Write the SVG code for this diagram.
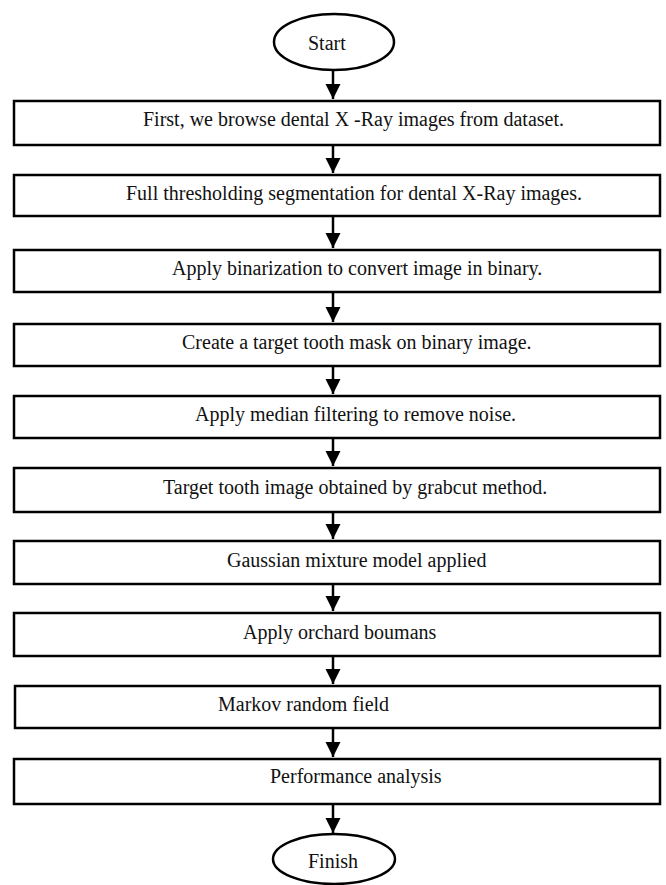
<svg xmlns="http://www.w3.org/2000/svg" width="666" height="885" viewBox="0 0 666 885">
<style>
.box{fill:#fff;stroke:#000;stroke-width:2.5}
.t{font-family:"Liberation Serif","Times New Roman",serif;font-size:20px;fill:#111}
.c{stroke:#000;stroke-width:2.5;fill:none}
</style>
<defs>
<marker id="ah" markerUnits="userSpaceOnUse" markerWidth="16" markerHeight="16" refX="15" refY="8" orient="auto">
<path d="M0,0.5 L15,8 L0,15.5 Z" fill="#000"/>
</marker>
</defs>
<rect width="666" height="885" fill="#fff"/>
<g id="connectors">
<line class="c" x1="333" y1="71" x2="333" y2="99" marker-end="url(#ah)"/>
<line class="c" x1="333" y1="146" x2="333" y2="173" marker-end="url(#ah)"/>
<line class="c" x1="333" y1="217" x2="333" y2="248" marker-end="url(#ah)"/>
<line class="c" x1="333" y1="293" x2="333" y2="322" marker-end="url(#ah)"/>
<line class="c" x1="333" y1="367" x2="333" y2="394" marker-end="url(#ah)"/>
<line class="c" x1="333" y1="439" x2="333" y2="466" marker-end="url(#ah)"/>
<line class="c" x1="333" y1="513" x2="333" y2="539" marker-end="url(#ah)"/>
<line class="c" x1="333" y1="585" x2="333" y2="611" marker-end="url(#ah)"/>
<line class="c" x1="333" y1="657" x2="333" y2="684" marker-end="url(#ah)"/>
<line class="c" x1="333" y1="729" x2="333" y2="757" marker-end="url(#ah)"/>
<line class="c" x1="333" y1="805" x2="333" y2="833" marker-end="url(#ah)"/>
</g>
<g id="start">
<ellipse class="box" cx="334" cy="42" rx="60" ry="28"/>
<text class="t" x="308" y="50">Start</text>
</g>
<g id="n1"><rect class="box" x="14" y="101" width="646" height="44"/><text class="t" x="143" y="126">First, we browse dental X -Ray images from dataset.</text></g>
<g id="n2"><rect class="box" x="14" y="175" width="646" height="41"/><text class="t" x="126" y="200">Full thresholding segmentation for dental X-Ray images.</text></g>
<g id="n3"><rect class="box" x="14" y="250" width="646" height="42"/><text class="t" x="172" y="275">Apply binarization to convert image in binary.</text></g>
<g id="n4"><rect class="box" x="14" y="324" width="646" height="42"/><text class="t" x="182" y="349">Create a target tooth mask on binary image.</text></g>
<g id="n5"><rect class="box" x="14" y="396" width="646" height="42"/><text class="t" x="195" y="421">Apply median filtering to remove noise.</text></g>
<g id="n6"><rect class="box" x="14" y="468" width="646" height="44"/><text class="t" x="163" y="494">Target tooth image obtained by grabcut method.</text></g>
<g id="n7"><rect class="box" x="14" y="541" width="646" height="43"/><text class="t" x="227" y="567">Gaussian mixture model applied</text></g>
<g id="n8"><rect class="box" x="14" y="613" width="646" height="43"/><text class="t" x="243" y="639">Apply orchard boumans</text></g>
<g id="n9"><rect class="box" x="15" y="686" width="645" height="42"/><text class="t" x="218" y="711">Markov random field</text></g>
<g id="n10"><rect class="box" x="14" y="759" width="646" height="45"/><text class="t" x="270" y="783">Performance analysis</text></g>
<g id="finish">
<ellipse class="box" cx="334" cy="859" rx="61" ry="25"/>
<text class="t" x="308" y="868">Finish</text>
</g>
</svg>
